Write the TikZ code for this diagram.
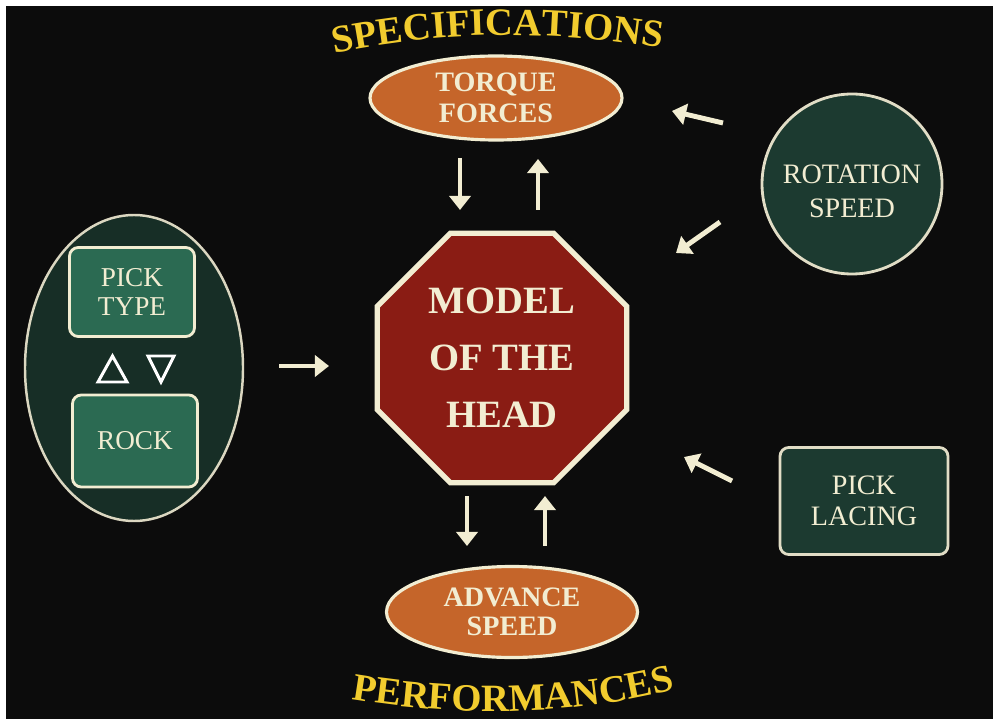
\documentclass[tikz,border=0pt]{standalone}
\usepackage{fontspec}
\setmainfont{Liberation Serif}
\usetikzlibrary{shapes.geometric,arrows.meta,decorations.text}

\definecolor{bgblack}{HTML}{0C0C0C}
\definecolor{cream}{HTML}{F2EDD2}
\definecolor{ovalorange}{HTML}{C5652A}
\definecolor{headred}{HTML}{8A1C14}
\definecolor{darkgreen}{HTML}{1C3A30}
\definecolor{ovalgreen}{HTML}{172E26}
\definecolor{boxgreen}{HTML}{2B6A52}
\definecolor{titleyellow}{HTML}{F2CC2E}

\begin{document}
\begin{tikzpicture}[x=0.02cm,y=-0.02cm,
  arr/.style={draw=cream, line width=2.8pt, -{Triangle[width=12pt,length=8pt]}},
  orangeoval/.style={ellipse, fill=ovalorange, draw=cream, line width=1.8pt,
    inner sep=0pt, text=cream, align=center,
    font=\bfseries\fontsize{16}{18}\selectfont},
  greenshape/.style={fill=darkgreen, draw=cream!85!gray, line width=1.6pt,
    inner sep=0pt, text=cream, align=center,
    font=\fontsize{16}{19}\selectfont},
  greenbox/.style={rectangle, rounded corners=5pt, fill=boxgreen, draw=cream,
    line width=1.6pt, inner sep=0pt, text=cream, align=center,
    font=\fontsize{15.5}{17}\selectfont},
  triout/.style={draw=white, line width=1.7pt, line join=miter},
  title/.style={decorate, decoration={text along path, text align=center,
    text color=titleyellow}}
]
\useasboundingbox (0,0) rectangle (993,719);
\fill[white] (-10,-10) rectangle (1003,729);
\fill[bgblack] (6,6) rectangle (1003,729);

% arched headings
\path[title, decoration={text={|\bfseries\fontsize{22}{22}\selectfont|SPECIFICATIONS}}]
  (318,57) .. controls (438,29) and (558,29) .. (678,51);
\path[title, decoration={text={|\bfseries\fontsize{22}{22}\selectfont|PERFORMANCES}}]
  (338,697) .. controls (455,718) and (570,718) .. (688,686);

% central model
\node[regular polygon, regular polygon sides=8, minimum size=270*0.02cm,
  inner sep=0pt, fill=headred, draw=cream, line width=3pt, text=cream,
  align=center, font=\bfseries\fontsize{22}{32.5}\selectfont]
  (head) at (502,358) {MODEL\\OF THE\\HEAD};

% specification and performance ovals
\node[orangeoval, minimum width=252*0.02cm, minimum height=84*0.02cm]
  (torque) at (496,98) {TORQUE\\FORCES};
\node[orangeoval, minimum width=251*0.02cm, minimum height=91*0.02cm,
  font=\bfseries\fontsize{16}{16.5}\selectfont]
  (advance) at (512,612) {ADVANCE\\SPEED};

% inputs on the right
\node[greenshape, circle, minimum size=180*0.02cm] (rot) at (852,184) {};
\node[text=cream, align=center, font=\fontsize{16}{19.3}\selectfont]
  (rottext) at (852,191) {ROTATION\\SPEED};
\node[greenshape, rectangle, rounded corners=5pt, minimum width=168*0.02cm,
  minimum height=107*0.02cm, font=\fontsize{16}{17.6}\selectfont]
  (lacing) at (864,501) {PICK\\LACING};

% pick group on the left
\node[ellipse, fill=ovalgreen, draw=cream!80!gray, line width=1.4pt,
  minimum width=218*0.02cm, minimum height=306*0.02cm] (group) at (134,368) {};
\node[greenbox, minimum width=125*0.02cm, minimum height=89*0.02cm]
  (picktype) at (132,292) {PICK\\TYPE};
\node[greenbox, minimum width=125*0.02cm, minimum height=92*0.02cm]
  (rock) at (135,441) {ROCK};
\draw[triout] (98,382) -- (127,382) -- (112.5,356) -- cycle;
\draw[triout] (148,356) -- (174,356) -- (161,382) -- cycle;

% arrow end points
\coordinate (t1a) at (460,158); \coordinate (t1b) at (460,210);
\coordinate (t2a) at (538,210); \coordinate (t2b) at (538,159);
\coordinate (b1a) at (467,496); \coordinate (b1b) at (467,546);
\coordinate (b2a) at (545,546); \coordinate (b2b) at (545,496);
\coordinate (la) at (279,366);  \coordinate (lb) at (329,366);
\coordinate (r1a) at (723,123); \coordinate (r1b) at (672,111);
\coordinate (r2a) at (720,222); \coordinate (r2b) at (676,253);
\coordinate (pla) at (732,481); \coordinate (plb) at (684,457);

\draw[arr] (t1a) -- (t1b);
\draw[arr] (t2a) -- (t2b);
\draw[arr] (b1a) -- (b1b);
\draw[arr] (b2a) -- (b2b);
\draw[arr] (la) -- (lb);
\draw[arr] (r1a) -- (r1b);
\draw[arr] (r2a) -- (r2b);
\draw[arr] (pla) -- (plb);
\end{tikzpicture}
\end{document}
